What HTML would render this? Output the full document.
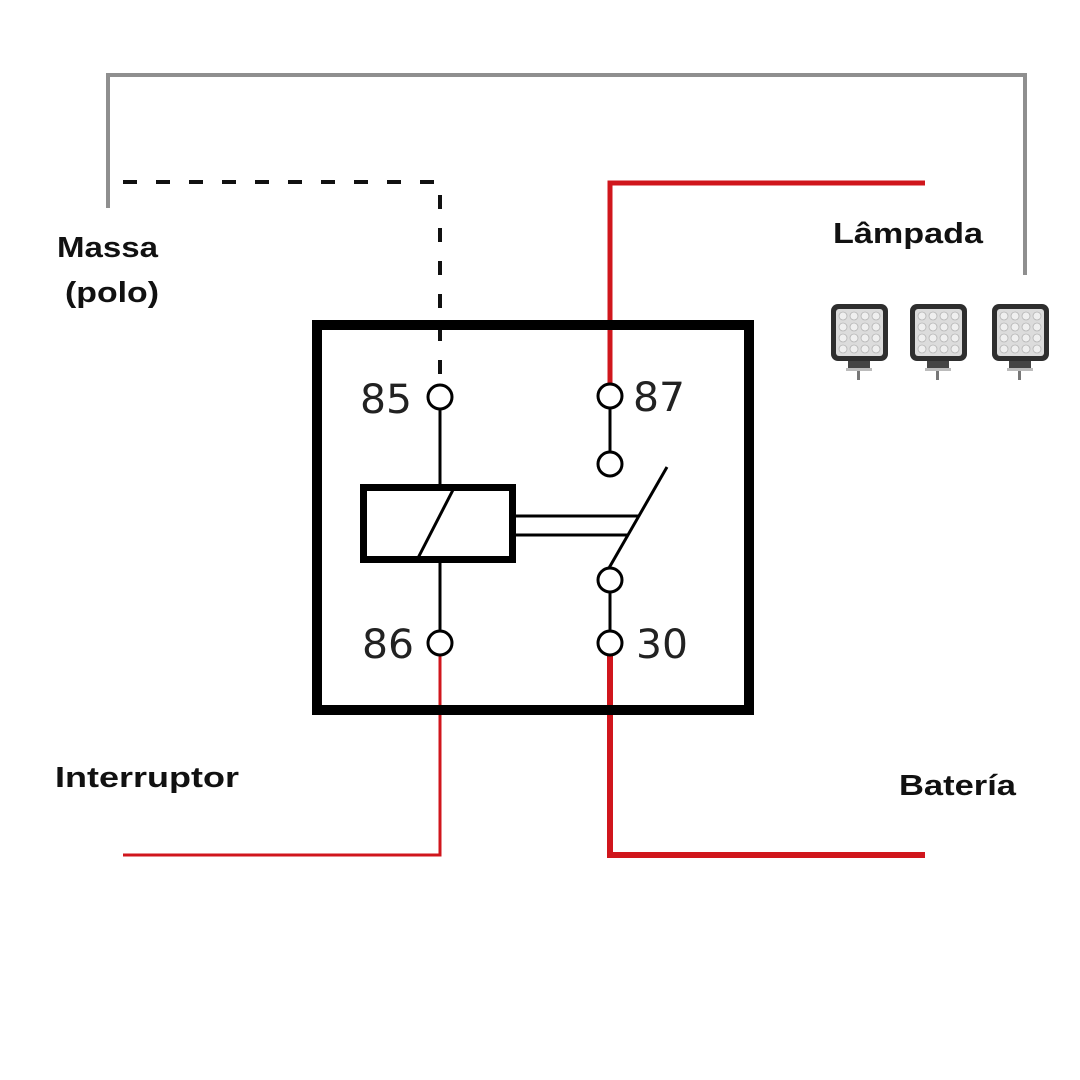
<!DOCTYPE html>
<html><head><meta charset="utf-8"><style>html,body{margin:0;padding:0;background:#fff}svg{display:block}</style></head>
<body>
<svg width="1080" height="1080" viewBox="0 0 1080 1080" xmlns="http://www.w3.org/2000/svg">
<rect width="1080" height="1080" fill="#fff"/>
<polyline points="108,208 108,75 1025,75 1025,275" fill="none" stroke="#8f8f8f" stroke-width="4"/>
<polyline points="123,182 440,182 440,383" fill="none" stroke="#111" stroke-width="4" stroke-dasharray="14,19"/>
<polyline points="610,385 610,183 925,183" fill="none" stroke="#d0161c" stroke-width="5"/>
<polyline points="610,655 610,855 925,855" fill="none" stroke="#d0161c" stroke-width="6"/>
<polyline points="440,655 440,855 123,855" fill="none" stroke="#d0161c" stroke-width="3"/>
<rect x="317" y="325" width="432" height="385" fill="none" stroke="#000" stroke-width="10"/>
<g stroke="#000" fill="none" stroke-width="3">
<circle cx="440" cy="397" r="12" fill="#fff"/>
<circle cx="610" cy="396" r="12" fill="#fff"/>
<circle cx="610" cy="464" r="12"/>
<circle cx="610" cy="580" r="12"/>
<circle cx="610" cy="643" r="12" fill="#fff"/>
<circle cx="440" cy="643" r="12" fill="#fff"/>
<line x1="440" y1="409" x2="440" y2="484"/>
<line x1="440" y1="563" x2="440" y2="631"/>
<line x1="610" y1="408" x2="610" y2="452"/>
<line x1="610" y1="592" x2="610" y2="631"/>
<line x1="667" y1="467" x2="609" y2="568"/>
<line x1="516" y1="516" x2="638" y2="516"/>
<line x1="516" y1="535" x2="628" y2="535"/>
<line x1="455" y1="486" x2="418" y2="558"/>
</g>
<rect x="363.5" y="487.5" width="149" height="72" fill="none" stroke="#000" stroke-width="7"/>
<g font-family="DejaVu Sans, Liberation Sans, sans-serif" font-size="40" fill="#222" lengthAdjust="spacingAndGlyphs">
<text x="360" y="413" textLength="52" lengthAdjust="spacingAndGlyphs">85</text>
<text x="633" y="411" textLength="52" lengthAdjust="spacingAndGlyphs">87</text>
<text x="362" y="658" textLength="52" lengthAdjust="spacingAndGlyphs">86</text>
<text x="636" y="658" textLength="52" lengthAdjust="spacingAndGlyphs">30</text>
</g>
<g font-family="Liberation Sans, sans-serif" font-weight="bold" font-size="29" fill="#111">
<text x="57" y="257" textLength="101" lengthAdjust="spacingAndGlyphs">Massa</text>
<text x="65" y="302" textLength="94" lengthAdjust="spacingAndGlyphs">(polo)</text>
<text x="833" y="243" textLength="150" lengthAdjust="spacingAndGlyphs">Lâmpada</text>
<text x="55" y="787" textLength="184" lengthAdjust="spacingAndGlyphs">Interruptor</text>
<text x="899" y="795" textLength="117" lengthAdjust="spacingAndGlyphs">Batería</text>
</g>
<g>
<g id="lamp">
<rect x="831" y="304" width="57" height="57" rx="7" fill="#2e2e2e"/>
<rect x="836" y="309" width="47" height="47" rx="3" fill="#dcdcdc"/>
<g fill="#efefef" stroke="#b5b5b5" stroke-width="0.8">
<circle cx="843" cy="316" r="4"/><circle cx="854" cy="316" r="4"/><circle cx="865" cy="316" r="4"/><circle cx="876" cy="316" r="4"/>
<circle cx="843" cy="327" r="4"/><circle cx="854" cy="327" r="4"/><circle cx="865" cy="327" r="4"/><circle cx="876" cy="327" r="4"/>
<circle cx="843" cy="338" r="4"/><circle cx="854" cy="338" r="4"/><circle cx="865" cy="338" r="4"/><circle cx="876" cy="338" r="4"/>
<circle cx="843" cy="349" r="4"/><circle cx="854" cy="349" r="4"/><circle cx="865" cy="349" r="4"/><circle cx="876" cy="349" r="4"/>
</g>
<rect x="848" y="361" width="22" height="7" fill="#444"/>
<rect x="846" y="368" width="26" height="3" fill="#bbb"/>
<rect x="857" y="371" width="3" height="9" fill="#777"/>
</g>
<use href="#lamp" x="79"/>
<use href="#lamp" x="161"/>
</g>
</svg>
</body></html>
